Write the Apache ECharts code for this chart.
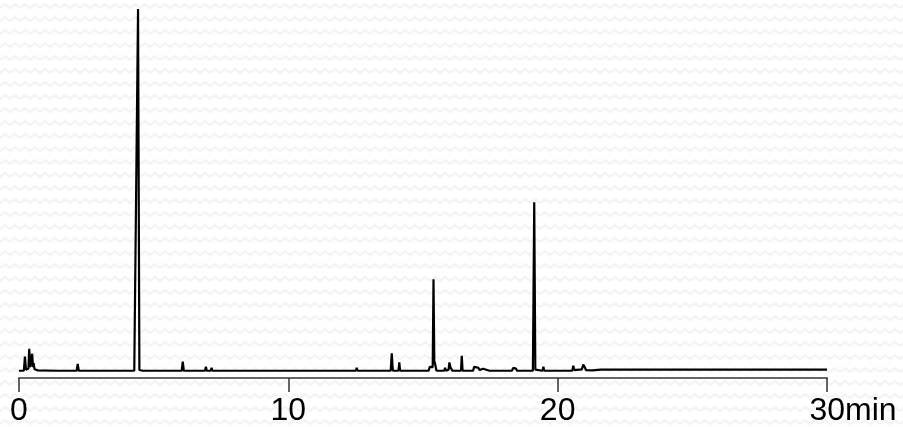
<!DOCTYPE html>
<html>
<head>
<meta charset="utf-8">
<script src="https://cdn.jsdelivr.net/npm/echarts@6/dist/echarts.min.js"></script>
<style>
html, body { margin: 0; padding: 0; background-color: #ffffff;
  background-image: url("data:image/svg+xml;utf8,<svg xmlns='http://www.w3.org/2000/svg' width='20' height='13'><polyline points='0,8 5,4 10,8 15,4 20,8' fill='none' stroke='%23f4f4f4' stroke-width='2.5'/></svg>");
}
#chart { width: 903px; height: 427px; }
</style>
</head>
<body>
<div id="chart"></div>
<script>
// retention time (min)
const times = [
  0.00, 0.18, 0.22, 0.26, 0.30, 0.35, 0.38, 0.42, 0.46, 0.49, 0.52, 0.54, 0.58, 0.70, 1.40,
  2.14, 2.18, 2.22, 2.59, 2.62, 2.65, 3.79, 3.82, 3.85,
  4.28, 4.42, 4.44, 4.47, 4.60,
  5.22, 5.25, 5.28, 6.04, 6.08, 6.12, 6.27, 6.30, 6.33, 6.91, 6.94, 6.97, 7.12, 7.15, 7.18, 7.42, 7.45, 7.48,
  8.12, 8.15, 8.18, 9.69, 9.72, 9.75, 10.02, 10.05, 10.08, 11.12, 11.15, 11.18, 11.77, 11.80, 11.83,
  12.51, 12.54, 12.57, 13.80, 13.84, 13.88, 14.09, 14.12, 14.15, 14.37, 14.40, 14.43, 14.87, 14.90, 14.93,
  15.21, 15.25, 15.30, 15.36, 15.39, 15.42, 15.46, 15.50,
  15.79, 15.82, 15.85, 15.95, 15.98, 16.02, 16.05, 16.09, 16.27, 16.30, 16.33, 16.41, 16.44, 16.47,
  16.57, 16.60, 16.63, 16.86, 16.90, 16.95, 17.06, 17.10, 17.23, 17.27, 17.47, 17.50, 17.53,
  18.07, 18.10, 18.13, 18.30, 18.35, 18.40, 18.45, 18.49,
  19.08, 19.13, 19.17, 19.44, 19.47, 19.50, 19.72, 19.75, 19.78, 20.17, 20.20, 20.23,
  20.54, 20.58, 20.62, 20.90, 20.95, 21.00, 21.05, 21.30, 21.60,
  22.0, 23.0, 24.0, 25.0, 26.0, 27.0, 28.0, 29.0, 30.0
];
// detector signal (relative units)
const signal = [
  0, 0, 3.9, 0.3, 0.5, 0.6, 6.1, 1.0, 1.2, 4.7, 1.0, 2.2, 0.4, 0.1, 0,
  0, 1.9, 0, 0, 0.5, 0, 0, 0.4, 0,
  0, 100, 60, 0.2, 0,
  0, 0.4, 0, 0, 2.5, 0, 0, 0.5, 0, 0, 1.1, 0, 0, 0.8, 0, 0, 0.4, 0,
  0, 0.4, 0, 0, 0.4, 0, 0, 0.5, 0, 0, 0.3, 0, 0, 0.3, 0,
  0, 0.8, 0, 0, 4.8, 0, 0, 2.3, 0, 0, 0.4, 0, 0, 0.3, 0,
  0, 1.1, 0.6, 1.0, 25.3, 2.8, 1.5, 0,
  0, 0.8, 0, 0.3, 2.3, 1.0, 1.4, 0, 0, 0.4, 0, 0, 4.1, 0,
  0, 0.3, 0, 0, 1.1, 0.6, 0.8, 0.2, 0.55, 0, 0, 0.3, 0,
  0, 0.2, 0, 0, 0.8, 0.3, 0.6, 0,
  0, 46.6, 0.3, 0, 1.1, 0, 0, 0.3, 0, 0, 0.2, 0,
  0, 1.4, 0.2, 0.4, 1.7, 1.1, 0.2, 0.1, 0.3,
  0.3, 0.3, 0.3, 0.3, 0.3, 0.3, 0.3, 0.3, 0.3
];
const tickValues = [0, 10, 20, 30];
const tickLabels = ['0', '10', '20', '30'];
const unitLabel = 'min';

const chart = echarts.init(document.getElementById('chart'), null, { renderer: 'canvas' });
chart.setOption({
  backgroundColor: 'transparent',
  animation: false,
  grid: { left: 19, right: 76, top: 9, bottom: 49, containLabel: false },
  xAxis: {
    type: 'value', min: 0, max: 30, interval: 10,
    axisLine: { show: true, onZero: false, lineStyle: { color: '#666', width: 2 } },
    axisTick: { show: true, length: 14, lineStyle: { color: '#333', width: 1.5 } },
    splitLine: { show: false },
    axisLabel: {
      margin: 17, fontSize: 32, fontFamily: 'Liberation Sans, Arial, sans-serif', color: '#000',
      formatter: function (v) {
        const i = tickValues.indexOf(v);
        const t = i >= 0 ? tickLabels[i] : String(v);
        return i === tickValues.length - 1 ? '{s|}' + t + unitLabel : t;
      },
      rich: { s: { width: 52 } }
    }
  },
  yAxis: { type: 'value', show: false, min: -2, max: 100 },
  series: [{
    type: 'line', showSymbol: false, symbol: 'none',
    lineStyle: { color: '#000', width: 2.2 },
    data: times.map((t, i) => [t, signal[i]])
  }]
});
</script>
</body>
</html>
